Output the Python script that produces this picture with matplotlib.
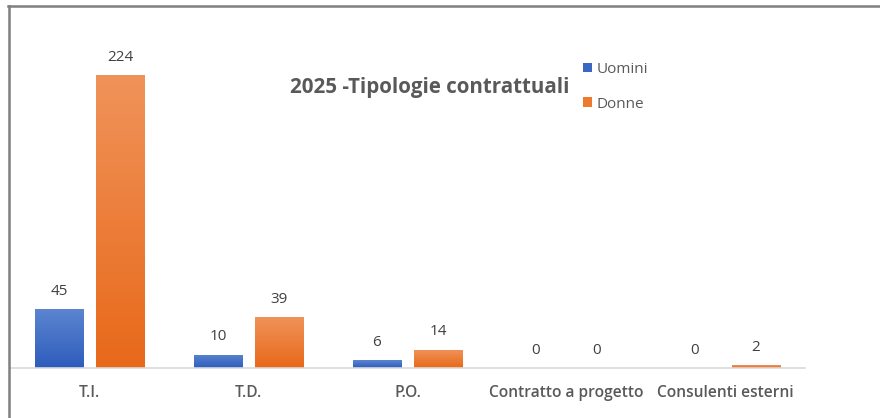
import matplotlib
matplotlib.use("Agg")
import matplotlib.pyplot as plt
import numpy as np
from matplotlib.lines import Line2D
from matplotlib.colors import LinearSegmentedColormap

# data
categories = ["T.I.", "T.D.", "P.O.", "Contratto a progetto", "Consulenti esterni"]
uomini = [45, 10, 6, 0, 0]
donne = [224, 39, 14, 0, 2]
series_names = ["Uomini", "Donne"]

plt.rcParams['font.family'] = ['Open Sans', 'DejaVu Sans']

fig = plt.figure(figsize=(8.8, 4.18), dpi=100)
fig.patch.set_facecolor("white")
ax = fig.add_axes([10 / 880, 1 - 368 / 418, 795 / 880, 358 / 418])

x = np.arange(len(categories))
w = 0.302
off = 0.192

blue_cmap = LinearSegmentedColormap.from_list("b", ["#2E5CBC", "#5B85D0"])
orange_cmap = LinearSegmentedColormap.from_list("o", ["#E8691A", "#F0935A"])

def gradient_bars(bars, cmap):
    for b in bars:
        h = b.get_height()
        if h <= 0:
            continue
        x0, y0 = b.get_x(), b.get_y()
        grad = np.linspace(0, 1, 100).reshape(-1, 1)
        im = ax.imshow(grad, cmap=cmap, origin="lower", aspect="auto",
                       extent=[x0, x0 + b.get_width(), y0, y0 + h], zorder=2)
        im.set_clip_path(b)

b1 = ax.bar(x - off, uomini, w, color="#3A66C4", label=series_names[0], zorder=2)
b2 = ax.bar(x + off, donne, w, color="#EE7A2E", label=series_names[1], zorder=2)
gradient_bars(b1, blue_cmap)
gradient_bars(b2, orange_cmap)

for bars in (b1, b2):
    for b in bars:
        ax.text(b.get_x() + b.get_width() / 2, b.get_height() + 8, str(int(b.get_height())),
                ha="center", va="bottom", fontsize=11, color="#404040")

ax.set_xlim(-0.5, len(categories) - 0.5)
ax.set_ylim(0, 358 / 1.308)
ax.set_xticks(x)
ax.set_xticklabels(categories, fontsize=11.2, fontweight="semibold", color="#595959")
ax.tick_params(axis="x", length=0, pad=12)
ax.set_yticks([])
for s in ["top", "right", "left"]:
    ax.spines[s].set_visible(False)
ax.spines["bottom"].set_color("#D9D9D9")
ax.spines["bottom"].set_linewidth(1.2)

fig.text(430 / 880, 1 - 87 / 418, "2025 -Tipologie contrattuali", ha="center", va="center",
         fontsize=14.8, fontweight="bold", color="#595959")

leg = ax.legend(loc="upper left", bbox_to_anchor=(569 / 880, 1 - 48 / 418),
                bbox_transform=fig.transFigure, frameon=False, fontsize=11,
                handlelength=0.6, handleheight=0.6, handletextpad=0.3, labelspacing=1.3)
for t in leg.get_texts():
    t.set_color("#595959")

# outer frame (top and left edges only, as in the reference)
fig.add_artist(Line2D([8 / 880, 1], [1 - 6 / 418, 1 - 6 / 418], color="#7F7F7F", lw=1.8,
                      transform=fig.transFigure))
fig.add_artist(Line2D([9 / 880, 9 / 880], [0, 1 - 6 / 418], color="#7F7F7F", lw=1.8,
                      transform=fig.transFigure))

fig.savefig("out.png", dpi=100, facecolor="white")
